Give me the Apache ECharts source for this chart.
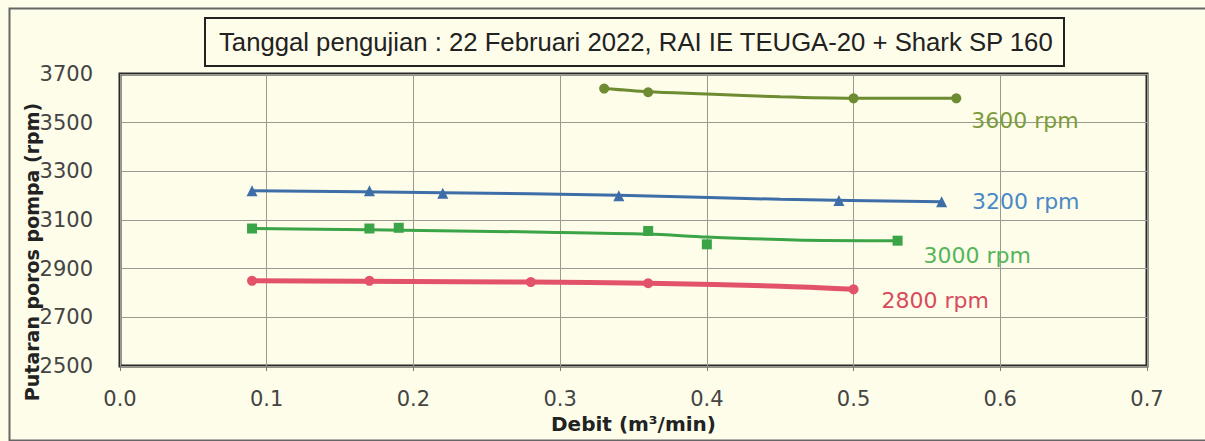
<!DOCTYPE html>
<html>
<head>
<meta charset="utf-8">
<style>
  html, body { margin: 0; padding: 0; background: #fdfdea; }
  #chart { width: 1205px; height: 441px; }
</style>
<script src="https://cdn.jsdelivr.net/npm/echarts@6/dist/echarts.min.js"></script>
</head>
<body>
<div id="chart"></div>
<script>
(function() {
  var xTicks = [0, 0.1, 0.2, 0.3, 0.4, 0.5, 0.6, 0.7];
  var yTicks = [2500, 2700, 2900, 3100, 3300, 3500, 3700];

  // measured points (debit, rpm)
  var debit3600 = [0.33, 0.36, 0.50, 0.57];
  var rpm3600 = [3640, 3625, 3600, 3600];
  var debit3200 = [0.09, 0.17, 0.22, 0.34, 0.49, 0.56];
  var rpm3200 = [3220, 3220, 3210, 3200, 3180, 3175];
  var debit3000 = [0.09, 0.17, 0.19, 0.36, 0.40, 0.53];
  var rpm3000 = [3065, 3065, 3068, 3055, 3000, 3015];
  var debit2800 = [0.09, 0.17, 0.28, 0.36, 0.50];
  var rpm2800 = [2850, 2850, 2845, 2840, 2815];

  // fitted curves as drawn on the sheet
  var curveX3600 = [0.33, 0.36, 0.40, 0.45, 0.50, 0.57];
  var curveY3600 = [3640, 3627, 3618, 3606, 3600, 3600];
  var curveX3200 = [0.09, 0.22, 0.34, 0.45, 0.56];
  var curveY3200 = [3220, 3212, 3202, 3185, 3175];
  var curveX3000 = [0.09, 0.17, 0.29, 0.36, 0.40, 0.46, 0.53];
  var curveY3000 = [3065, 3060, 3050, 3042, 3030, 3018, 3015];
  var curveX2800 = [0.09, 0.28, 0.36, 0.45, 0.50];
  var curveY2800 = [2850, 2845, 2840, 2828, 2815];

  var labels = ['3600 rpm', '3200 rpm', '3000 rpm', '2800 rpm'];

  function pairs(xs, ys) {
    return xs.map(function(x, i) { return [x, ys[i]]; });
  }

  function pointsWithLabel(xs, ys, text, color, dist, dy) {
    var d = pairs(xs, ys);
    var last = d.length - 1;
    d[last] = {
      value: d[last],
      label: {
        show: true, position: 'right', distance: dist, offset: [0, dy],
        formatter: text, color: color,
        fontFamily: 'DejaVu Sans', fontSize: 22
      }
    };
    return d;
  }

  function curve(xs, ys, color, width) {
    return {
      type: 'line', data: pairs(xs, ys), showSymbol: false, smooth: 0.3,
      lineStyle: { color: color, width: width }, z: 2, silent: true
    };
  }

  function points(data, symbol, color, size) {
    return {
      type: 'line', data: data, symbol: symbol, symbolSize: size,
      lineStyle: { opacity: 0 }, itemStyle: { color: color }, z: 3
    };
  }

  var olive = '#6d8b30', blue = '#3e6ea8', green = '#3aa447', red = '#e2536a';

  var chart = echarts.init(document.getElementById('chart'), null, { renderer: 'svg' });
  chart.setOption({
    animation: false,
    backgroundColor: '#fdfdea',
    title: {
      text: 'Tanggal pengujian : 22 Februari 2022, RAI IE TEUGA-20 + Shark SP 160',
      left: 205, top: 18,
      padding: [11, 11, 11, 14],
      borderColor: '#222', borderWidth: 2,
      textStyle: { fontFamily: 'Liberation Sans', fontSize: 25.7, fontWeight: 'normal', color: '#222' }
    },
    graphic: [{
      type: 'rect', left: 7, top: 6, silent: true,
      shape: { width: 1210, height: 432 },
      style: { fill: 'none', stroke: '#666', lineWidth: 2 }
    }],
    grid: {
      left: 120, right: 58, top: 74, bottom: 75,
      show: true, borderColor: '#2a2a2a', borderWidth: 3, backgroundColor: '#fdfdea'
    },
    xAxis: {
      type: 'value', min: xTicks[0], max: xTicks[xTicks.length - 1], interval: 0.1,
      name: 'Debit (m³/min)', nameLocation: 'middle', nameGap: 48, nameMoveOverlap: false,
      nameTextStyle: { fontFamily: 'DejaVu Sans', fontWeight: 'bold', fontSize: 20, color: '#222' },
      axisLine: { show: false },
      axisTick: { show: true, length: 5, lineStyle: { color: '#777' } },
      axisLabel: {
        margin: 22, color: '#444', fontFamily: 'DejaVu Sans', fontSize: 21,
        formatter: function(v) { return v.toFixed(1); }
      },
      splitLine: { show: true, lineStyle: { color: '#9a9a90', width: 1 } }
    },
    yAxis: {
      type: 'value', min: yTicks[0], max: yTicks[yTicks.length - 1], interval: 200,
      name: 'Putaran poros pompa (rpm)', nameLocation: 'middle', nameGap: 79, nameMoveOverlap: false,
      nameTextStyle: {
        fontFamily: 'DejaVu Sans', fontWeight: 'bold', fontSize: 19, color: '#222',
        padding: [0, 64, 0, 0]
      },
      axisLine: { show: false },
      axisTick: { show: false },
      axisLabel: {
        margin: 27, color: '#444', fontFamily: 'DejaVu Sans', fontSize: 21,
        formatter: function(v) { return String(v); }
      },
      splitLine: { show: true, lineStyle: { color: '#9a9a90', width: 1 } }
    },
    series: [
      curve(curveX3600, curveY3600, olive, 3),
      curve(curveX3200, curveY3200, blue, 3),
      curve(curveX3000, curveY3000, green, 3),
      curve(curveX2800, curveY2800, red, 5),
      points(pointsWithLabel(debit3600, rpm3600, labels[0], '#7c9b3d', 10, 22), 'circle', olive, 10),
      points(pointsWithLabel(debit3200, rpm3200, labels[1], '#4a89c6', 25, 0), 'triangle', blue, 11),
      points(pointsWithLabel(debit3000, rpm3000, labels[2], '#55b55a', 21, 15), 'rect', green, 10),
      points(pointsWithLabel(debit2800, rpm2800, labels[3], '#d94a5c', 23, 11), 'circle', red, 10)
    ]
  });
  window.addEventListener('resize', function() { chart.resize(); });
})();
</script>
</body>
</html>
